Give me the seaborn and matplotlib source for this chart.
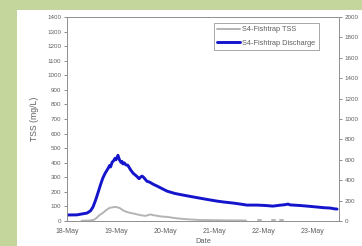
import seaborn as sns
import matplotlib.pyplot as plt
import matplotlib.patches as mpatches
import pandas as pd
import numpy as np

# days since 18-May 00:00
disch_day = [0.0, 0.2, 0.41, 0.48, 0.53, 0.58, 0.63, 0.68, 0.73, 0.78, 0.84, 0.87, 0.89,
             0.92, 0.95, 0.98, 1.0, 1.04, 1.07, 1.1, 1.12, 1.14, 1.17, 1.2, 1.24, 1.3,
             1.35, 1.42, 1.47, 1.5, 1.53, 1.56, 1.63, 1.69, 1.76, 1.84, 1.95, 2.04, 2.2,
             2.37, 2.55, 2.71, 2.9, 3.06, 3.2, 3.39, 3.55, 3.67, 3.88, 4.05, 4.2, 4.35,
             4.45, 4.51, 4.55, 4.75, 4.9, 5.1, 5.25, 5.37, 5.45, 5.51]
disch_val = [59, 60, 78, 100, 137, 200, 273, 350, 420, 470, 517, 545, 530,
             576, 590, 615, 600, 644, 600, 575, 585, 560, 570, 550, 547, 500,
             468, 440, 415, 430, 440, 430, 390, 380, 360, 342, 315, 293, 270,
             254, 238, 224, 208, 195, 186, 176, 165, 156, 156, 152, 146, 155,
             160, 166, 158, 152, 146, 137, 130, 127, 120, 117]

tss_day = [0.3, 0.45, 0.55, 0.6, 0.66, 0.73, 0.8, 0.87, 0.98, 1.02, 1.08, 1.15, 1.22,
           1.3, 1.4, 1.5, 1.6, 1.7, 1.76, 1.85, 1.95, 2.05, 2.2, 2.37, 2.55, 2.7, 2.9,
           3.1, 3.3, 3.5, 3.65, 3.9, 3.96, 4.18, 4.24, 4.34, 4.4]
tss_val = [2, 3, 8, 20, 40, 55, 75, 90, 97, 95, 88, 72, 62,
           55, 48, 40, 35, 45, 40, 35, 30, 28, 20, 14, 10, 7, 6,
           5, 4, 4, 3, 4, 4, 5, 5, 4, 4]
tss_seg = [0] * 31 + [1, 1, 2, 2, 3, 3]

tick_days = [0, 1, 2, 3, 4, 5]
tick_labels = ['18-May', '19-May', '20-May', '21-May', '22-May', '23-May']

df_q = pd.DataFrame({'day': disch_day, 'q': disch_val})
df_t = pd.DataFrame({'day': tss_day, 'tss': tss_val, 'seg': tss_seg})

sns.set_style("white")
plt.rcParams['font.family'] = ['Arial', 'Liberation Sans', 'DejaVu Sans']
txt = '#606060'
spine = '#909090'

fig = plt.figure(figsize=(3.62, 2.46), dpi=100)
fig.patch.set_facecolor('#c4d69c')
fig.patches.append(mpatches.Rectangle((17 / 362, 0), 1, (246 - 10) / 246,
                                      transform=fig.transFigure, facecolor='white',
                                      edgecolor='none', zorder=-5))

ax = fig.add_axes([67 / 362, 25 / 246, 272 / 362, 204 / 246])
ax.set_facecolor('none')
ax2 = ax.twinx()

sns.lineplot(data=df_t, x='day', y='tss', units='seg', estimator=None,
             color='#b4b4b4', linewidth=1.4, ax=ax)
sns.lineplot(data=df_q, x='day', y='q', color='#1414cc', linewidth=2.1, ax=ax2)

ax.set_xlim(0, 5.55)
ax.set_ylim(0, 1400)
ax2.set_ylim(0, 2000)
ax.set_yticks(range(0, 1401, 100))
ax2.set_yticks(range(0, 2001, 200))
ax.set_xticks(tick_days)
ax.set_xticklabels(tick_labels)

ax.set_ylabel('TSS (mg/L)', fontsize=6.2, color=txt, labelpad=6)
ax.set_xlabel('Date', fontsize=5.4, color=txt, labelpad=2.5)
ax2.set_ylabel('')

for a in (ax, ax2):
    a.tick_params(labelsize=4.5, colors=txt, length=2, width=0.5, pad=2)
    for s in a.spines.values():
        s.set_color(spine)
        s.set_linewidth(0.6)
ax.tick_params(axis='x', labelsize=5, pad=3)

handles = [ax.lines[0], ax2.lines[0]]
labels = ['S4-Fishtrap TSS', 'S4-Fishtrap Discharge']
leg = ax2.legend(handles, labels, loc='upper right', bbox_to_anchor=(0.926, 0.971),
                 fontsize=5.3, frameon=True, fancybox=False, handlelength=3.1,
                 borderpad=0.45, labelspacing=0.85, handletextpad=0.3,
                 borderaxespad=0)
leg.get_frame().set_edgecolor('#808080')
leg.get_frame().set_linewidth(0.6)
for t in leg.get_texts():
    t.set_color(txt)

fig.savefig('out.png', dpi=100)
